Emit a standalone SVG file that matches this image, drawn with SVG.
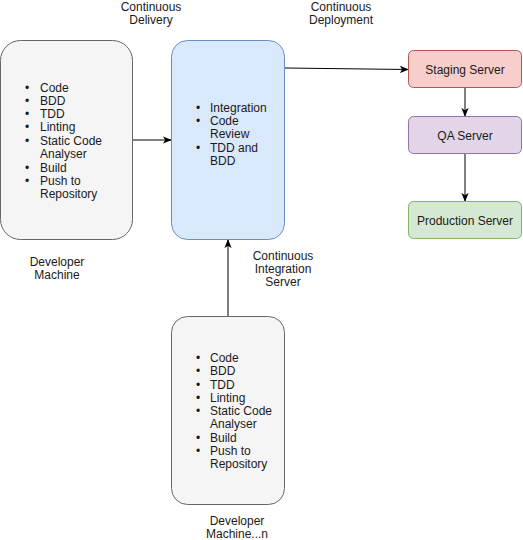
<svg xmlns="http://www.w3.org/2000/svg" width="523" height="540" viewBox="0 0 523 540">
<style>
text{font-family:"Liberation Sans",Arial,sans-serif;font-size:12px;fill:#1a1a1a}
.c{text-anchor:middle}
.dev{fill:#f5f5f5;stroke:#666666;stroke-width:1}
.ci{fill:#dae8fc;stroke:#6c8ebf;stroke-width:1}
.stg{fill:#f8cecc;stroke:#b85450;stroke-width:1}
.qa{fill:#e1d5e7;stroke:#9673a6;stroke-width:1}
.prod{fill:#d5e8d4;stroke:#82b366;stroke-width:1}
.edge{stroke:#000;stroke-width:1;fill:none;marker-end:url(#arr)}
</style>
<defs>
<marker id="arr" viewBox="0 0 10 10" refX="9" refY="5" markerWidth="9" markerHeight="9" markerUnits="userSpaceOnUse" orient="auto">
<path d="M0,1 L10,5 L0,9 L2.5,5 z" fill="#000"/>
</marker>
</defs>

<g id="labels">
<text class="c" x="151" y="11">Continuous</text>
<text class="c" x="151" y="24">Delivery</text>
<text class="c" x="341" y="11">Continuous</text>
<text class="c" x="341" y="24">Deployment</text>
<text class="c" x="57" y="266">Developer</text>
<text class="c" x="57" y="279">Machine</text>
<text class="c" x="283" y="260">Continuous</text>
<text class="c" x="283" y="273">Integration</text>
<text class="c" x="283" y="286">Server</text>
<text class="c" x="237" y="525">Developer</text>
<text class="c" x="237" y="538">Machine...n</text>
</g>

<g id="connectors">
<line class="edge" x1="133" y1="140" x2="171" y2="140"/>
<line class="edge" x1="285" y1="68" x2="408" y2="69.5"/>
<line class="edge" x1="465" y1="88" x2="465" y2="116"/>
<line class="edge" x1="465" y1="154" x2="465" y2="201"/>
<line class="edge" x1="228" y1="316" x2="228" y2="240"/>
</g>

<g id="developer-machine">
<rect class="dev" x="0.5" y="40.5" width="132" height="199" rx="20" ry="20"/>
<text x="25" y="92">•</text><text x="40" y="92">Code</text>
<text x="25" y="105">•</text><text x="40" y="105">BDD</text>
<text x="25" y="118">•</text><text x="40" y="118">TDD</text>
<text x="25" y="131">•</text><text x="40" y="131">Linting</text>
<text x="25" y="145">•</text><text x="40" y="145">Static Code</text>
<text x="40" y="158">Analyser</text>
<text x="25" y="172">•</text><text x="40" y="172">Build</text>
<text x="25" y="185">•</text><text x="40" y="185">Push to</text>
<text x="40" y="198">Repository</text>
</g>

<g id="ci-server">
<rect class="ci" x="171.5" y="40.5" width="113" height="199" rx="16" ry="16"/>
<text x="196" y="112">•</text><text x="210" y="112">Integration</text>
<text x="196" y="125">•</text><text x="210" y="125">Code</text>
<text x="210" y="138">Review</text>
<text x="196" y="152">•</text><text x="210" y="152">TDD and</text>
<text x="210" y="165">BDD</text>
</g>

<g id="staging-server">
<rect class="stg" x="408.5" y="50.5" width="113" height="37" rx="5" ry="5"/>
<text class="c" x="465" y="74">Staging Server</text>
</g>

<g id="qa-server">
<rect class="qa" x="408.5" y="116.5" width="113" height="37" rx="5" ry="5"/>
<text class="c" x="465" y="140">QA Server</text>
</g>

<g id="production-server">
<rect class="prod" x="408.5" y="201.5" width="113" height="37" rx="5" ry="5"/>
<text class="c" x="465" y="225">Production Server</text>
</g>

<g id="developer-machine-n">
<rect class="dev" x="171.5" y="316.5" width="113" height="188" rx="16" ry="16"/>
<text x="196" y="362">•</text><text x="210" y="362">Code</text>
<text x="196" y="375">•</text><text x="210" y="375">BDD</text>
<text x="196" y="389">•</text><text x="210" y="389">TDD</text>
<text x="196" y="402">•</text><text x="210" y="402">Linting</text>
<text x="196" y="415">•</text><text x="210" y="415">Static Code</text>
<text x="210" y="428">Analyser</text>
<text x="196" y="442">•</text><text x="210" y="442">Build</text>
<text x="196" y="455">•</text><text x="210" y="455">Push to</text>
<text x="210" y="468">Repository</text>
</g>
</svg>
